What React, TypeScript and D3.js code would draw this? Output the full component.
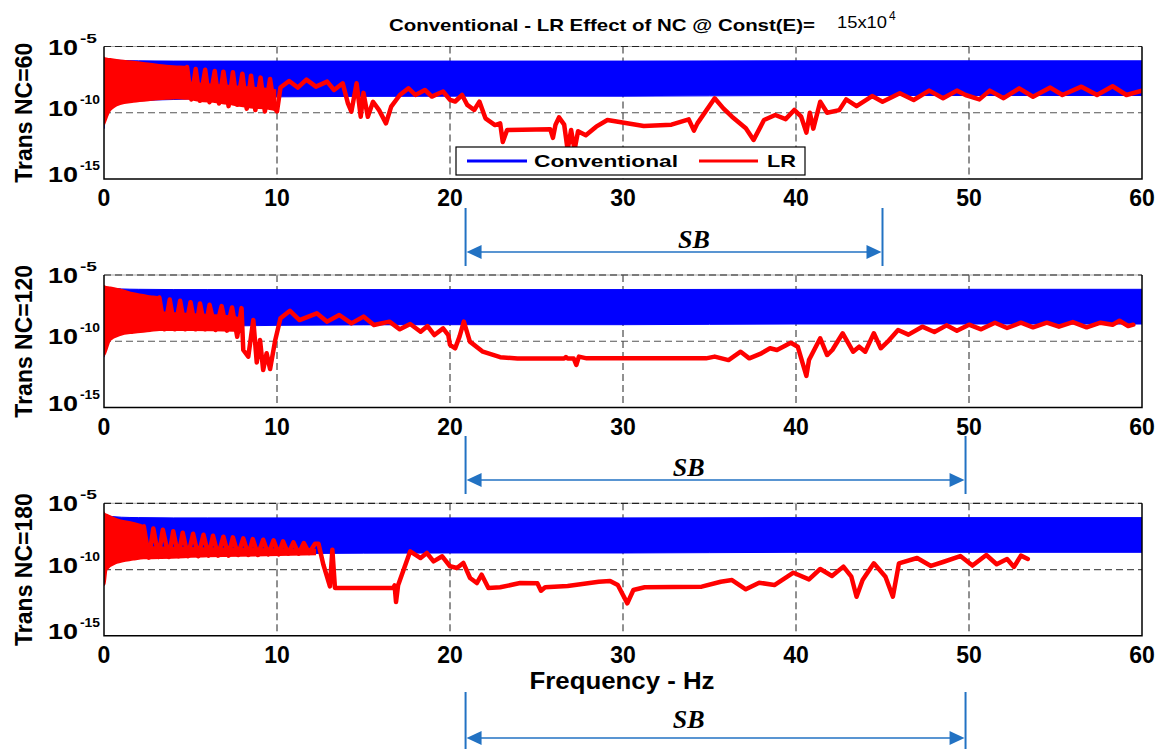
import React from 'react';
import * as d3 from 'd3';

// ---------------- data (log10 exponents of the transmissibility) ----------------
const freqTicks = [0, 10, 20, 30, 40, 50, 60];
const gridFreqs = [10, 20, 30, 40, 50];
const yTickExps = [-5, -10, -15];
const panelLabels = ['Trans NC=60', 'Trans NC=120', 'Trans NC=180'];
const sbStart = [20.9, 20.9, 20.9];
const sbEnd = [45.0, 49.8, 49.8];
const sbLabelFreq = [34.1, 33.8, 33.8];

// Conventional: envelope of the dense oscillation band (same in every panel)
const convFreq = [0, 0.05, 0.2, 0.5, 1, 2, 4, 6, 10, 20, 30, 40, 50, 60];
const convUpper = [-5.85, -5.9, -5.95, -6.0, -6.05, -6.08, -6.1, -6.1, -6.1, -6.1, -6.1, -6.08, -6.08, -6.08];
const convLower = [-11.2, -10.3, -9.9, -9.5, -9.3, -9.1, -9.0, -8.9, -8.8, -8.75, -8.75, -8.7, -8.7, -8.7];

// LR, NC = 60
const lr60BandFreq = [0, 0.03, 0.36, 0.93, 1.7, 2.66, 3.6, 4.2, 4.8, 4.85, 5.5, 6.5, 7.5, 8.5, 9.5, 9.9];
const lr60BandUpper = [-5.85, -5.88, -5.95, -6.05, -6.15, -6.3, -6.45, -6.5, -6.55, -7.7, -7.8, -7.9, -8.0, -8.1, -8.2, -8.3];
const lr60BandLower = [-10.9, -10.8, -9.8, -9.34, -9.17, -9.04, -8.95, -8.91, -8.95, -8.95, -9.1, -9.2, -9.4, -9.6, -9.7, -9.8];
const lr60Freq = [4.8, 5.05, 5.3, 5.55, 5.85, 6.1, 6.4, 6.65, 6.9, 7.2, 7.45, 7.7, 8.0, 8.25, 8.5, 8.75, 9.05, 9.3, 9.6, 9.85, 10.0, 10.2, 10.7, 11.2, 11.7, 12.25, 12.9, 13.3, 13.8, 14.1, 14.3, 14.6, 14.84, 15.0, 15.25, 15.55, 15.9, 16.3, 16.6, 17.1, 17.6, 18.0, 18.55, 18.95, 19.6, 20.0, 20.3, 20.7, 21.0, 21.4, 21.7, 22.05, 22.6, 22.9, 23.05, 23.3, 25.8, 25.95, 26.1, 26.3, 26.6, 26.8, 27.0, 27.2, 27.4, 27.85, 28.45, 29.1, 31.2, 32.8, 33.8, 34.1, 34.3, 35.3, 35.8, 36.3, 37.1, 37.55, 38.15, 38.8, 39.4, 39.9, 40.3, 40.6, 40.8, 41.0, 41.4, 41.8, 42.5, 42.9, 43.5, 44.4, 45.0, 46.0, 46.8, 47.7, 48.5, 49.3, 49.8, 50.6, 51.2, 52.0, 52.9, 53.7, 54.7, 55.4, 56.5, 57.4, 58.3, 59.1, 60.0];
const lr60Exp = [-6.55, -9.0, -6.7, -9.1, -6.75, -9.2, -6.85, -9.3, -6.9, -9.5, -6.95, -9.4, -7.05, -9.7, -7.2, -9.8, -7.35, -9.9, -7.45, -9.6, -9.9, -8.1, -7.6, -8.1, -7.5, -8.03, -7.65, -8.28, -7.78, -9.29, -9.92, -7.78, -10.3, -8.5, -10.3, -9.17, -9.8, -10.8, -9.54, -8.66, -8.15, -8.66, -8.28, -8.78, -8.4, -9.03, -9.15, -8.66, -9.41, -9.79, -9.16, -10.42, -10.93, -10.8, -12.2, -11.3, -11.25, -11.9, -10.9, -10.35, -10.9, -12.8, -11.3, -12.8, -11.4, -11.7, -11.05, -10.55, -11.0, -10.9, -10.5, -11.35, -10.8, -8.91, -9.67, -10.3, -11.17, -12.05, -10.55, -10.17, -10.48, -9.79, -10.3, -11.5, -10.0, -11.2, -9.17, -10.0, -9.8, -8.99, -9.5, -8.74, -9.17, -8.53, -9.04, -8.33, -8.9, -8.33, -8.66, -8.99, -8.33, -8.9, -8.16, -8.79, -8.1, -8.66, -8.03, -8.66, -8.0, -8.66, -8.33];

// LR, NC = 120
const lr120BandFreq = [0, 0.03, 0.36, 0.93, 1.7, 2.66, 3.2, 3.25, 5.0, 7.5, 7.9];
const lr120BandUpper = [-5.83, -5.86, -5.95, -6.1, -6.38, -6.6, -6.7, -7.8, -7.95, -8.15, -8.3];
const lr120BandLower = [-11.04, -11.0, -9.9, -9.53, -9.35, -9.23, -9.15, -9.15, -9.15, -9.2, -9.3];
const lr120Freq = [3.2, 3.5, 3.8, 4.1, 4.4, 4.7, 5.0, 5.3, 5.55, 5.85, 6.1, 6.45, 6.8, 7.1, 7.4, 7.7, 7.95, 8.05, 8.34, 8.63, 8.83, 9.02, 9.2, 9.4, 9.6, 9.9, 10.2, 10.75, 11.3, 12.3, 12.9, 13.6, 14.3, 15.0, 15.6, 16.5, 17.1, 17.7, 18.3, 18.7, 19.1, 19.6, 19.9, 20.0, 20.3, 20.55, 20.8, 21.15, 21.9, 22.9, 23.9, 26.6, 26.7, 26.8, 27.15, 27.3, 27.45, 27.9, 34.8, 35.3, 36.1, 36.8, 37.3, 38.0, 38.5, 38.9, 39.7, 40.1, 40.6, 40.75, 41.4, 41.8, 42.1, 42.7, 43.3, 43.65, 44.0, 44.5, 44.9, 45.3, 45.9, 46.5, 47.3, 48.0, 48.7, 49.3, 50.0, 50.7, 51.5, 52.2, 53.0, 53.7, 54.5, 55.2, 56.0, 56.8, 57.6, 58.3, 58.7, 59.2, 59.5];
const lr120Exp = [-6.7, -9.1, -6.85, -9.1, -6.95, -9.1, -7.05, -9.1, -7.15, -9.1, -7.25, -9.15, -7.35, -9.2, -7.45, -9.66, -7.5, -10.66, -11.16, -8.4, -11.6, -9.9, -12.17, -10.9, -12.1, -9.9, -8.27, -7.7, -8.4, -7.89, -8.52, -8.02, -8.65, -8.14, -8.77, -8.52, -9.1, -8.7, -9.28, -8.85, -9.53, -9.03, -9.53, -10.28, -10.53, -9.65, -8.52, -10.03, -10.79, -11.2, -11.3, -11.3, -11.2, -11.3, -11.3, -11.79, -11.16, -11.29, -11.29, -11.16, -11.42, -10.79, -11.29, -10.91, -10.53, -10.66, -10.11, -10.41, -12.62, -11.42, -9.78, -11.04, -10.66, -9.4, -10.79, -10.41, -10.79, -9.4, -10.53, -10.03, -9.15, -9.5, -8.9, -9.3, -8.8, -9.2, -8.75, -9.1, -8.6, -9.0, -8.6, -8.95, -8.6, -8.9, -8.55, -8.95, -8.6, -8.75, -8.45, -8.85, -8.75];

// LR, NC = 180
const lr180BandFreq = [0, 0.03, 0.15, 0.73, 1.7, 2.3, 2.35, 6.0, 12.2];
const lr180BandUpper = [-5.73, -5.78, -5.86, -6.2, -6.49, -6.74, -8.3, -8.4, -8.5];
const lr180BandLower = [-11.14, -11.1, -10.0, -9.5, -9.25, -9.15, -9.15, -9.0, -8.85];
const lr180Freq = [2.3, 2.6, 2.85, 3.15, 3.4, 3.75, 4.0, 4.3, 4.55, 4.85, 5.15, 5.45, 5.75, 6.05, 6.3, 6.6, 6.9, 7.2, 7.45, 7.75, 8.05, 8.35, 8.6, 8.9, 9.2, 9.5, 9.8, 10.1, 10.35, 10.65, 10.95, 11.25, 11.55, 11.85, 12.2, 12.4, 12.68, 13.06, 13.2, 13.35, 16.72, 16.8, 16.88, 17.0, 17.7, 18.3, 18.66, 19.05, 19.55, 20.0, 20.4, 20.77, 21.16, 21.55, 21.83, 22.22, 22.9, 24.05, 25.05, 25.26, 25.5, 26.8, 28.6, 29.25, 29.7, 30.25, 30.6, 31.25, 34.55, 35.65, 36.3, 37.1, 37.87, 38.75, 39.85, 40.75, 41.4, 42.08, 42.74, 43.2, 43.5, 43.85, 44.5, 45.17, 45.6, 45.95, 47.0, 47.8, 48.5, 49.5, 50.2, 51.0, 51.6, 52.2, 52.6, 53.0, 53.4];
const lr180Exp = [-6.74, -9.1, -6.9, -9.05, -7.0, -9.05, -7.11, -9.0, -7.22, -9.0, -7.3, -9.0, -7.37, -8.95, -7.45, -8.95, -7.52, -8.95, -7.57, -8.9, -7.65, -8.9, -7.7, -8.9, -7.75, -8.85, -7.8, -8.85, -7.87, -8.8, -7.95, -8.8, -8.0, -8.75, -8.05, -8.05, -9.63, -11.27, -8.5, -11.39, -11.39, -11.2, -12.45, -11.19, -8.62, -9.13, -8.75, -9.38, -9.0, -9.75, -9.88, -9.5, -10.64, -11.02, -10.39, -11.39, -11.34, -11.02, -11.04, -11.6, -11.34, -11.24, -10.92, -10.86, -11.17, -12.55, -11.54, -11.34, -11.29, -10.92, -10.79, -11.49, -10.99, -11.17, -10.24, -10.74, -9.96, -10.49, -9.78, -10.54, -12.05, -10.79, -9.53, -10.54, -12.05, -9.53, -9.13, -9.73, -9.43, -8.98, -9.7, -8.9, -9.6, -9.2, -9.8, -8.95, -9.2];

// ---------------- layout ----------------
const W = 1164;
const H = 749;
const X0 = 104;
const X1 = 1142;
const PH = 132.5;
const panelTops = [46.5, 275, 503.3];
const sbLayout = [
  { top: 208, bottom: 266, arrow: 252, text: 248 },
  { top: 436, bottom: 494, arrow: 480, text: 476 },
  { top: 692, bottom: 749, arrow: 738, text: 728 },
];
const FONT = '"Liberation Sans", Arial, Helvetica, sans-serif';
const SBCOL = '#2272c3';

type BandPt = { f: number; hi: number; lo: number };
type Pt = { f: number; e: number };

const zipBand = (f: number[], hi: number[], lo: number[]): BandPt[] => f.map((v, i) => ({ f: v, hi: hi[i], lo: lo[i] }));
const zipLine = (f: number[], e: number[]): Pt[] => f.map((v, i) => ({ f: v, e: e[i] }));

const convBand = zipBand(convFreq, convUpper, convLower);
const panels = [
  { band: zipBand(lr60BandFreq, lr60BandUpper, lr60BandLower), line: zipLine(lr60Freq, lr60Exp) },
  { band: zipBand(lr120BandFreq, lr120BandUpper, lr120BandLower), line: zipLine(lr120Freq, lr120Exp) },
  { band: zipBand(lr180BandFreq, lr180BandUpper, lr180BandLower), line: zipLine(lr180Freq, lr180Exp) },
];

export default function App() {
  const x = d3.scaleLinear().domain([0, 60]).range([X0, X1]);

  return (
    <svg width={W} height={H} style={{ position: 'absolute', left: 0, top: 0, background: '#fff' }} fontFamily={FONT}>
      <rect x={0} y={0} width={W} height={H} fill="#fff" />
      <defs>
        {panelTops.map((t, i) => (
          <clipPath id={`clip${i}`} key={i}>
            <rect x={X0} y={t} width={X1 - X0} height={PH} />
          </clipPath>
        ))}
      </defs>

      {/* title */}
      <text x={389} y={31} fontSize={17} fontWeight="bold" textLength={426} lengthAdjust="spacingAndGlyphs">
        Conventional - LR Effect of NC @ Const(E)=
      </text>
      <text x={837} y={28} fontSize={16} textLength={50} lengthAdjust="spacingAndGlyphs">15x10</text>
      <text x={889} y={20} fontSize={12}>4</text>

      {panelTops.map((top, pi) => {
        const bottom = top + PH;
        const y = d3.scaleLog().domain([1e-15, 1e-5]).range([bottom, top]);
        const ye = (e: number) => y(Math.pow(10, e));
        const area = d3
          .area<BandPt>()
          .x((d) => x(d.f))
          .y0((d) => ye(d.lo))
          .y1((d) => ye(d.hi))
          .curve(d3.curveMonotoneX);
        const line = d3
          .line<Pt>()
          .x((d) => x(d.f))
          .y((d) => ye(d.e));
        const p = panels[pi];
        const sb = sbLayout[pi];
        const sx0 = x(sbStart[pi]);
        const sx1 = x(sbEnd[pi]);
        const midY = (top + bottom) / 2;
        return (
          <g key={pi}>
            {/* grid */}
            {gridFreqs.map((f) => (
              <line key={f} x1={x(f)} x2={x(f)} y1={top} y2={bottom} stroke="#222" strokeWidth={1} strokeDasharray="7,4" />
            ))}
            <line x1={X0} x2={X1} y1={ye(-10)} y2={ye(-10)} stroke="#555" strokeWidth={1.2} strokeDasharray="7,4" />

            {/* data */}
            <g clipPath={`url(#clip${pi})`}>
              <path d={area(convBand) ?? ''} fill="#0000ff" stroke="#0000ff" strokeWidth={1} />
              <path d={area(p.band) ?? ''} fill="#ff0000" stroke="#ff0000" strokeWidth={2} />
              <path d={line(p.line) ?? ''} fill="none" stroke="#ff0000" strokeWidth={4.5} strokeLinejoin="round" strokeLinecap="round" />
            </g>

            {/* frame */}
            <line x1={X0} x2={X1} y1={top} y2={top} stroke="#aaa" strokeWidth={1} />
            <line x1={X0} x2={X1} y1={top} y2={top} stroke="#222" strokeWidth={1.2} strokeDasharray="7,4" />
            <path d={`M${X0},${top}V${bottom}H${X1}V${top}`} fill="none" stroke="#000" strokeWidth={1.5} />

            {/* y ticks */}
            {yTickExps.map((e, k) => {
              const ty = ye(e);
              const base = k === 0 ? ty + 8 : ty + 3;
              const sup = String(e);
              return (
                <g key={e} fontWeight="bold">
                  <text x={48} y={base} fontSize={22} textLength={30} lengthAdjust="spacingAndGlyphs">10</text>
                  <text x={80} y={base - 12} fontSize={13} textLength={sup.length === 2 ? 17 : 20} lengthAdjust="spacingAndGlyphs">{sup}</text>
                </g>
              );
            })}

            {/* x ticks */}
            {freqTicks.map((f) => (
              <text key={f} x={x(f)} y={bottom + 27} fontSize={23} fontWeight="bold" textAnchor="middle">{f}</text>
            ))}

            {/* y label */}
            <text transform={`translate(32,${midY}) rotate(-90)`} fontSize={23} fontWeight="bold" textAnchor="middle">
              {panelLabels[pi]}
            </text>

            {/* SB annotation */}
            <line x1={sx0} x2={sx0} y1={sb.top} y2={sb.bottom} stroke={SBCOL} strokeWidth={2} />
            <line x1={sx1} x2={sx1} y1={sb.top} y2={sb.bottom} stroke={SBCOL} strokeWidth={2} />
            <line x1={sx0 + 10} x2={sx1 - 10} y1={sb.arrow} y2={sb.arrow} stroke={SBCOL} strokeWidth={1.5} />
            <path d={`M${sx0 + 1},${sb.arrow}L${sx0 + 16},${sb.arrow - 7}L${sx0 + 16},${sb.arrow + 7}Z`} fill={SBCOL} />
            <path d={`M${sx1 - 1},${sb.arrow}L${sx1 - 16},${sb.arrow - 7}L${sx1 - 16},${sb.arrow + 7}Z`} fill={SBCOL} />
            <text x={x(sbLabelFreq[pi])} y={sb.text} fontSize={26} fontStyle="italic" fontWeight="bold" textAnchor="middle" fontFamily='"Liberation Serif", "Times New Roman", serif'>
              SB
            </text>
          </g>
        );
      })}

      {/* legend (first panel) */}
      <g>
        <rect x={456} y={147} width={349} height={28} fill="#fff" stroke="#000" strokeWidth={1.2} />
        <line x1={467} x2={527} y1={161} y2={161} stroke="#0000ff" strokeWidth={3} />
        <text x={534} y={167} fontSize={17} fontWeight="bold" textLength={144} lengthAdjust="spacingAndGlyphs">Conventional</text>
        <line x1={699} x2={758} y1={161} y2={161} stroke="#ff0000" strokeWidth={3} />
        <text x={767} y={167} fontSize={17} fontWeight="bold" textLength={29} lengthAdjust="spacingAndGlyphs">LR</text>
      </g>

      {/* x axis title */}
      <text x={622} y={689} fontSize={23} fontWeight="bold" textAnchor="middle" textLength={185} lengthAdjust="spacingAndGlyphs">
        Frequency - Hz
      </text>
    </svg>
  );
}
